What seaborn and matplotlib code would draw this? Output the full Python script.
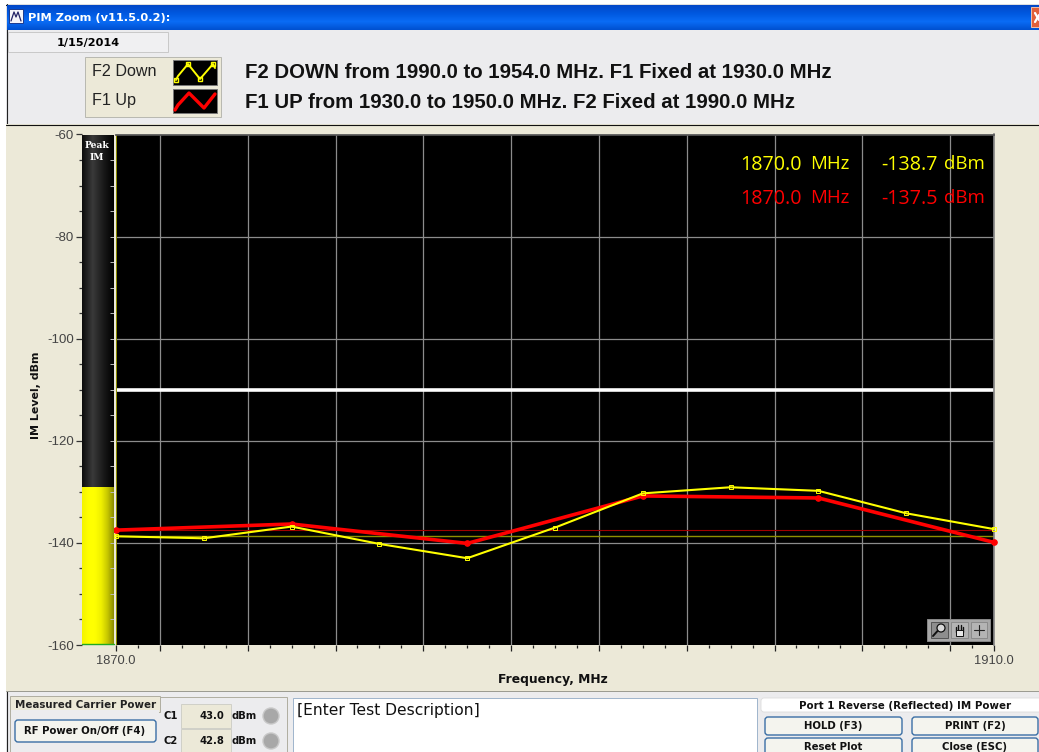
import numpy as np
import pandas as pd
import matplotlib
matplotlib.use("Agg")
import matplotlib.pyplot as plt
import seaborn as sns
from matplotlib.colors import LinearSegmentedColormap
from matplotlib.patches import Rectangle, Circle, FancyBboxPatch
from matplotlib.ticker import FixedLocator, FixedFormatter, MultipleLocator, NullFormatter

# sweep data
f2_freq = [1870, 1874, 1878, 1882, 1886, 1890, 1894, 1898, 1902, 1906, 1910]
f2_level = [-138.7, -139.1, -136.8, -140.2, -143.0, -137.0, -130.3, -129.1, -129.8, -134.2, -137.3]
f1_freq = [1870, 1878, 1886, 1894, 1902, 1910]
f1_level = [-137.5, -136.3, -140.1, -130.8, -131.2, -139.9]
limit_level = -110
f2_marker_level = -138.7
f1_marker_level = -137.5
peak_level = -129.2

major_x = [1872, 1876, 1880, 1884, 1888, 1892, 1896, 1900, 1904, 1908]
major_y = [-60, -80, -100, -120, -140, -160]
y_labels = ["-60", "-80", "-100", "-120", "-140", "-160"]

W, H = 1039, 752
BEIGE = "#ECE9D8"
GREY = "#ECECEE"
YEL = "#FFFF00"
RED = "#FF0000"

sns.set_theme(style="white")
plt.rcParams["font.family"] = ["Liberation Sans", "DejaVu Sans"]

fig = plt.figure(figsize=(W / 100, H / 100), dpi=100, facecolor="white")


def px_axes(z):
    a = fig.add_axes([0, 0, 1, 1], zorder=z)
    a.set_xlim(0, W)
    a.set_ylim(H, 0)
    a.axis("off")
    a.patch.set_alpha(0)
    return a


bg = px_axes(-1)
top = px_axes(10)


def box(a, x0, y0, x1, y1, fc, ec="none", lw=0.7, z=2):
    a.add_patch(Rectangle((x0, y0), x1 - x0, y1 - y0, fc=fc, ec=ec, lw=lw, zorder=z))


def round_box(a, x0, y0, x1, y1, fc, ec, lw=1.0, r=3):
    a.add_patch(FancyBboxPatch((x0 + r, y0 + r), x1 - x0 - 2 * r, y1 - y0 - 2 * r,
                               boxstyle=f"round,pad={r}", fc=fc, ec=ec, lw=lw, zorder=3))


def label(a, x, y, s, size=9, color="black", ha="left", weight="normal", family=None):
    a.text(x, y, s, fontsize=size, color=color, ha=ha, va="center", weight=weight,
           family=family or "Liberation Sans", zorder=6)


# window chrome
box(bg, 6, 4, W, H, GREY)
bg.plot([6, W], [4.5, 4.5], color="black", lw=0.8)
bg.plot([6.5, 6.5], [4, H], color="#222222", lw=0.8)
title_cmap = LinearSegmentedColormap.from_list("title", ["#0348C8", "#0058E0", "#0A6CF5", "#0050D0"])
bg.imshow(np.linspace(0, 1, 64).reshape(-1, 1), cmap=title_cmap, extent=(7, W, 30, 5), aspect="auto", zorder=2)
bg.set_xlim(0, W)
bg.set_ylim(H, 0)
box(bg, 9, 9, 23, 23, "#F4F4FA", "#1A3A90", z=3)
bg.plot([11, 14, 16, 18, 21], [21, 12, 17, 12, 21], color="#222266", lw=0.9, zorder=4)
label(bg, 28, 18, "PIM Zoom (v11.5.0.2):", 8.2, "white", weight="bold", family="DejaVu Sans")
box(bg, 1031, 7, W + 3, 27, "#E2603A", "#F0C0A8", z=3)
bg.plot([1035, W], [13, 20], color="white", lw=1.6, zorder=4)
bg.plot([1035, W], [22, 15], color="white", lw=1.6, zorder=4)

box(bg, 8, 32, 168, 52, "#F0F0F2", "#C8C8C8")
label(bg, 88, 43, "1/15/2014", 8.1, ha="center", weight="bold", family="DejaVu Sans")

box(bg, 85, 57, 221, 117, BEIGE, "#B8B8B0")
label(bg, 92, 72, "F2 Down", 11.6, "#222222", family="Liberation Sans")
label(bg, 92, 101, "F1 Up", 11.6, "#222222", family="Liberation Sans")
box(bg, 173, 60, 217, 85, "black", "#777777", z=3)
box(bg, 173, 89, 217, 113, "black", "#777777", z=3)
bg.plot([176, 178, 188, 200, 213, 215], [80, 76, 64, 79, 64, 68], color=YEL, lw=1.4, zorder=4,
        marker="s", ms=2.2, mfc="none", markevery=[0, 2, 3, 4])
bg.plot([175, 178, 189, 204, 215], [110, 105, 93, 108, 94], color=RED, lw=2.4, zorder=4)

label(bg, 245, 72, "F2 DOWN from 1990.0 to 1954.0 MHz. F1 Fixed at 1930.0 MHz", 14.7, "#111111", weight="bold")
label(bg, 245, 102, "F1 UP from 1930.0 to 1950.0 MHz. F2 Fixed at 1990.0 MHz", 14.7, "#111111", weight="bold")

box(bg, 6, 124, W, 691, BEIGE)
bg.plot([6, W], [124.5, 124.5], color="#111111", lw=0.8, zorder=3)
bg.plot([6, W], [690.5, 690.5], color="#9A9A90", lw=0.7, zorder=3)

# main plot
ax = fig.add_axes([116 / W, (H - 645) / H, 878 / W, 510.5 / H], zorder=2, facecolor="black")
ax.set_axisbelow(True)
ax.vlines(major_x, -160, -60, color="#8C8C8C", lw=0.9, zorder=1)
ax.hlines(major_y[1:-1], 1870, 1910, color="#8C8C8C", lw=0.9, zorder=1)
ax.axhline(f1_marker_level, color="#A00000", lw=0.8, zorder=2)
ax.axhline(f2_marker_level, color="#8F8F00", lw=1.0, zorder=2)
ax.axhline(limit_level, color="white", lw=2.6, zorder=2)
ax.axvline(1870, color="#8F8F00", lw=1.4, zorder=2)

df_f1 = pd.DataFrame({"freq": f1_freq, "level": f1_level})
df_f2 = pd.DataFrame({"freq": f2_freq, "level": f2_level})
sns.lineplot(data=df_f2, x="freq", y="level", ax=ax, color=YEL, lw=1.5, marker="s", ms=3.2,
             mfc="none", mec=YEL, mew=0.7, zorder=4, clip_on=False)
sns.lineplot(data=df_f1, x="freq", y="level", ax=ax, color=RED, lw=2.6, marker="o", ms=4.0,
             mec=RED, zorder=3, clip_on=False)

ax.set_xlim(1870, 1910)
ax.set_ylim(-160, -60)
ax.set_xlabel("")
ax.set_ylabel("")
ax.xaxis.set_major_locator(FixedLocator([1870] + major_x + [1910]))
ax.xaxis.set_major_formatter(FixedFormatter(["1870.0"] + [""] * len(major_x) + ["1910.0"]))
ax.xaxis.set_minor_locator(MultipleLocator(1))
ax.xaxis.set_minor_formatter(NullFormatter())
ax.tick_params(axis="x", which="major", bottom=True, direction="out", length=4, width=0.9, color="#222222",
               labelsize=9.3, labelcolor="#444444", pad=3)
ax.tick_params(axis="x", which="minor", bottom=True, direction="out", length=2.5, width=0.9, color="#222222")
ax.set_yticks([])
for s in ax.spines.values():
    s.set_visible(False)
ax.spines["right"].set_visible(True)
ax.spines["right"].set_color("#888888")
ax.spines["top"].set_visible(True)
ax.spines["top"].set_color("#555555")

# peak IM bar, same y scale as the plot
bar = fig.add_axes([82 / W, (H - 645) / H, 31.5 / W, 510.5 / H], zorder=3, facecolor="black")
dark = LinearSegmentedColormap.from_list("dark", ["#0C0C0C", "#3A3A3A", "#1A1A1A", "#000000"])
fill = LinearSegmentedColormap.from_list("fill", ["#F4F400", YEL, YEL, "#F0F000", "#C8C800", "#8C8C00"])
grad = np.linspace(0, 1, 64).reshape(1, -1)
bar.imshow(grad, cmap=dark, extent=(0, 1, -160, -60), aspect="auto", zorder=1)
bar.imshow(grad, cmap=fill, extent=(0, 1, -160, peak_level), aspect="auto", zorder=2)
bar.set_xlim(0, 1)
bar.set_ylim(-160, -60)
bar.plot([0, 1], [-159.9, -159.9], color="#22AA22", lw=1.0, zorder=3, clip_on=False)
bar.set_xticks([])
bar.yaxis.set_major_locator(FixedLocator(major_y))
bar.yaxis.set_major_formatter(FixedFormatter(y_labels))
bar.yaxis.set_minor_locator(MultipleLocator(5))
bar.tick_params(axis="y", which="major", left=True, direction="out", length=4.5, width=0.9, color="#333333",
                labelsize=9.5, labelcolor="#444444", pad=1.5)
bar.tick_params(axis="y", which="minor", left=True, direction="out", length=2.5, width=0.9, color="#333333")
for s in bar.spines.values():
    s.set_visible(False)
bar.hlines(np.arange(-155, -55, 5), 0.88, 1, color="#BBBBBB", lw=0.7, zorder=3)

label(top, 97, 145, "Peak", 6.6, "white", ha="center", weight="bold", family="DejaVu Serif")
label(top, 97, 158, "IM", 6.6, "white", ha="center", weight="bold", family="DejaVu Serif")

# cursor readouts
for y, col, mhz, dbm in [(165, YEL, "1870.0", "-138.7"), (199, RED, "1870.0", "-137.5")]:
    label(top, 740, y, mhz, 14.2, col, family="Open Sans")
    label(top, 810, y - 1, "MHz", 13.4, col, family="Open Sans")
    label(top, 881, y, dbm, 14.2, col, family="Open Sans")
    label(top, 944, y - 1, "dBm", 13.4, col, family="Open Sans")

# graph palette
box(top, 927, 619, 990, 641, "#A8A8A8", "#888888", z=3)
box(top, 931, 622, 948, 638, "#8E8E8E", "#555555", z=4)
box(top, 951, 622, 968, 638, "#B4B4B4", "#8A8A8A", z=4)
box(top, 971, 622, 987, 638, "#B4B4B4", "#8A8A8A", z=4)
top.add_patch(Circle((941, 628), 4, fc="#D8D8D8", ec="#111111", lw=0.9, zorder=5))
top.plot([937.5, 933], [631, 636], color="#111111", lw=1.4, zorder=5)
# hand tool icon
for hx, hy in [(955.5, 627), (958, 625), (960.5, 625), (963, 626.5)]:
    top.plot([hx, hx], [hy, 632], color="#111111", lw=1.0, zorder=5)
top.add_patch(Rectangle((955.5, 630), 7.5, 5.5, fc="#E8E8E8", ec="#111111", lw=0.7, zorder=5))
top.plot([974, 984], [630, 630], color="#222222", lw=0.8, zorder=5)
top.plot([979, 979], [625, 635], color="#222222", lw=0.8, zorder=5)

# axis titles
label(bg, 553, 679, "Frequency, MHz", 8.9, "#111111", ha="center", weight="bold", family="DejaVu Sans")
bg.text(36, 395, "IM Level, dBm", rotation=90, fontsize=7.9, color="#111111", ha="center", va="center",
        weight="bold", family="DejaVu Sans", zorder=6)

# bottom panel
box(bg, 10, 697, 287, H + 2, GREY, "#B0AEA0")
box(bg, 10, 696, 160, 712, BEIGE, "#B0AEA0", z=3)
box(bg, 11, 710, 159, 714, GREY, z=4)
label(bg, 15, 705, "Measured Carrier Power", 7.4, "#222222", weight="bold", family="DejaVu Sans")
round_box(bg, 15, 720, 156, 742, "#F4F4EE", "#3A6EA5", 1.0)
label(bg, 85, 731, "RF Power On/Off (F4)", 7.3, "#111111", ha="center", weight="bold", family="DejaVu Sans")
for y, name, val in [(716, "C1", "43.0"), (741, "C2", "42.8")]:
    label(bg, 163, y, name, 7.2, "#111111", weight="bold", family="DejaVu Sans")
    box(bg, 181, y - 12, 231, y + 12, BEIGE, "#D0D0C8", z=3)
    label(bg, 224, y, val, 7.2, "#111111", ha="right", weight="bold", family="DejaVu Sans")
    label(bg, 232, y, "dBm", 7.2, "#111111", weight="bold", family="DejaVu Sans")
    bg.add_patch(Circle((271, y), 8, fc="#A8A8A8", ec="#C8C8C8", lw=1.0, zorder=5))
box(bg, 293, 698, 757, H + 2, "white", "#9FB4CC", z=3)
label(bg, 297, 711, "[Enter Test Description]", 11.2, "#111111", family="DejaVu Sans")

round_box(bg, 761, 698, W + 6, 712, "white", "#DDDDDD", 0.6)
label(bg, 905, 706, "Port 1 Reverse (Reflected) IM Power", 7.4, "#111111", ha="center", weight="bold",
      family="DejaVu Sans")
for x0, x1, y0, y1, s in [(765, 902, 717, 735, "HOLD (F3)"), (912, 1038, 717, 735, "PRINT (F2)"),
                          (765, 902, 738, 756, "Reset Plot"), (912, 1038, 738, 756, "Close (ESC)")]:
    round_box(bg, x0, y0, x1, y1, "#F4F4EE", "#3A6EA5", 1.0)
    label(bg, (x0 + x1) / 2, (y0 + 9), s, 7.3, "#111111", ha="center", weight="bold", family="DejaVu Sans")

fig.savefig("out.png", dpi=100)
